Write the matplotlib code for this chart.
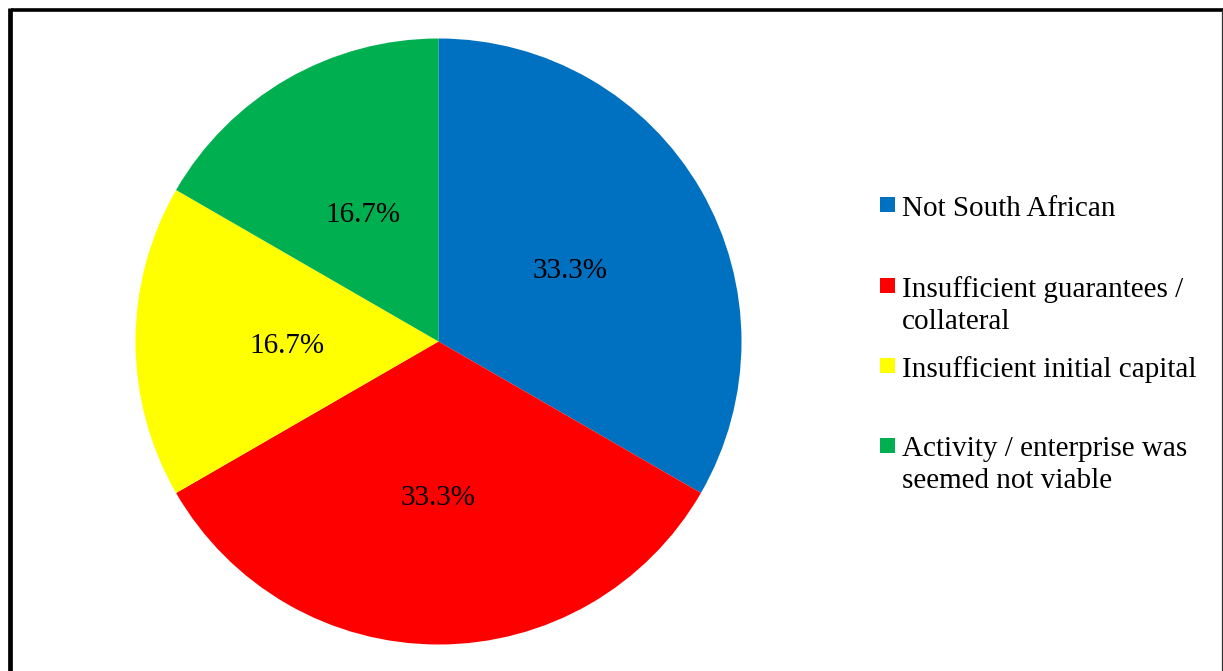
import matplotlib
matplotlib.use("Agg")
import matplotlib.pyplot as plt
from matplotlib.patches import Rectangle
from matplotlib.lines import Line2D

# Reasons given for loan refusal
categories = [
    "Not South African",
    "Insufficient guarantees /\ncollateral",
    "Insufficient initial capital",
    "Activity / enterprise was\nseemed not viable",
]
counts = [2, 2, 1, 1]
colors = ["#0070C0", "#FF0000", "#FFFF00", "#00B050"]

plt.rcParams["font.family"] = ["Liberation Serif", "DejaVu Serif"]

W, H = 1223, 671
fig = plt.figure(figsize=(W / 100, H / 100), dpi=100)

# Pie area: centre (438.5, 341.5) px, radius 303 px
r = 303
cx, cy = 438.5, 341.5
ax = fig.add_axes([(cx - r) / W, (H - cy - r) / H, 2 * r / W, 2 * r / H])
wedges, texts, autotexts = ax.pie(
    counts, colors=colors, startangle=90, counterclock=False,
    autopct="%.1f%%", pctdistance=0.5,
    textprops=dict(fontsize=21, color="black"),
    wedgeprops=dict(linewidth=0))
for t in autotexts:
    x, y = t.get_position()
    t.set_position((x, y - 5 / r))
ax.set_xlim(-1, 1)
ax.set_ylim(-1, 1)
ax.set_aspect("equal")
ax.axis("off")

# Legend drawn as coloured squares with text beside them
legend_y = [204.5, 285, 365.5, 445]
for lab, col, y in zip(categories, colors, legend_y):
    fig.add_artist(Rectangle((880 / W, (H - y - 7.5) / H), 15 / W, 15 / H,
                             transform=fig.transFigure, facecolor=col,
                             edgecolor="none"))
    fig.text(902 / W, (H - y + 9) / H, lab, fontsize=21, ha="left",
             va="top", linespacing=1.32)

# Frame around the chart area
fig.add_artist(Line2D([9.5 / W, 9.5 / W], [0, (H - 8) / H],
                      transform=fig.transFigure, color="black", linewidth=3.4,
                      solid_capstyle="butt"))
fig.add_artist(Line2D([11 / W, 1222.5 / W], [(H - 9.5) / H, (H - 9.5) / H],
                      transform=fig.transFigure, color="black", linewidth=2.6,
                      solid_capstyle="butt"))
fig.add_artist(Line2D([1222 / W, 1222 / W], [0, (H - 10) / H],
                      transform=fig.transFigure, color="#333333", linewidth=0.9,
                      solid_capstyle="butt"))

fig.savefig("out.png", dpi=100, facecolor="white")
